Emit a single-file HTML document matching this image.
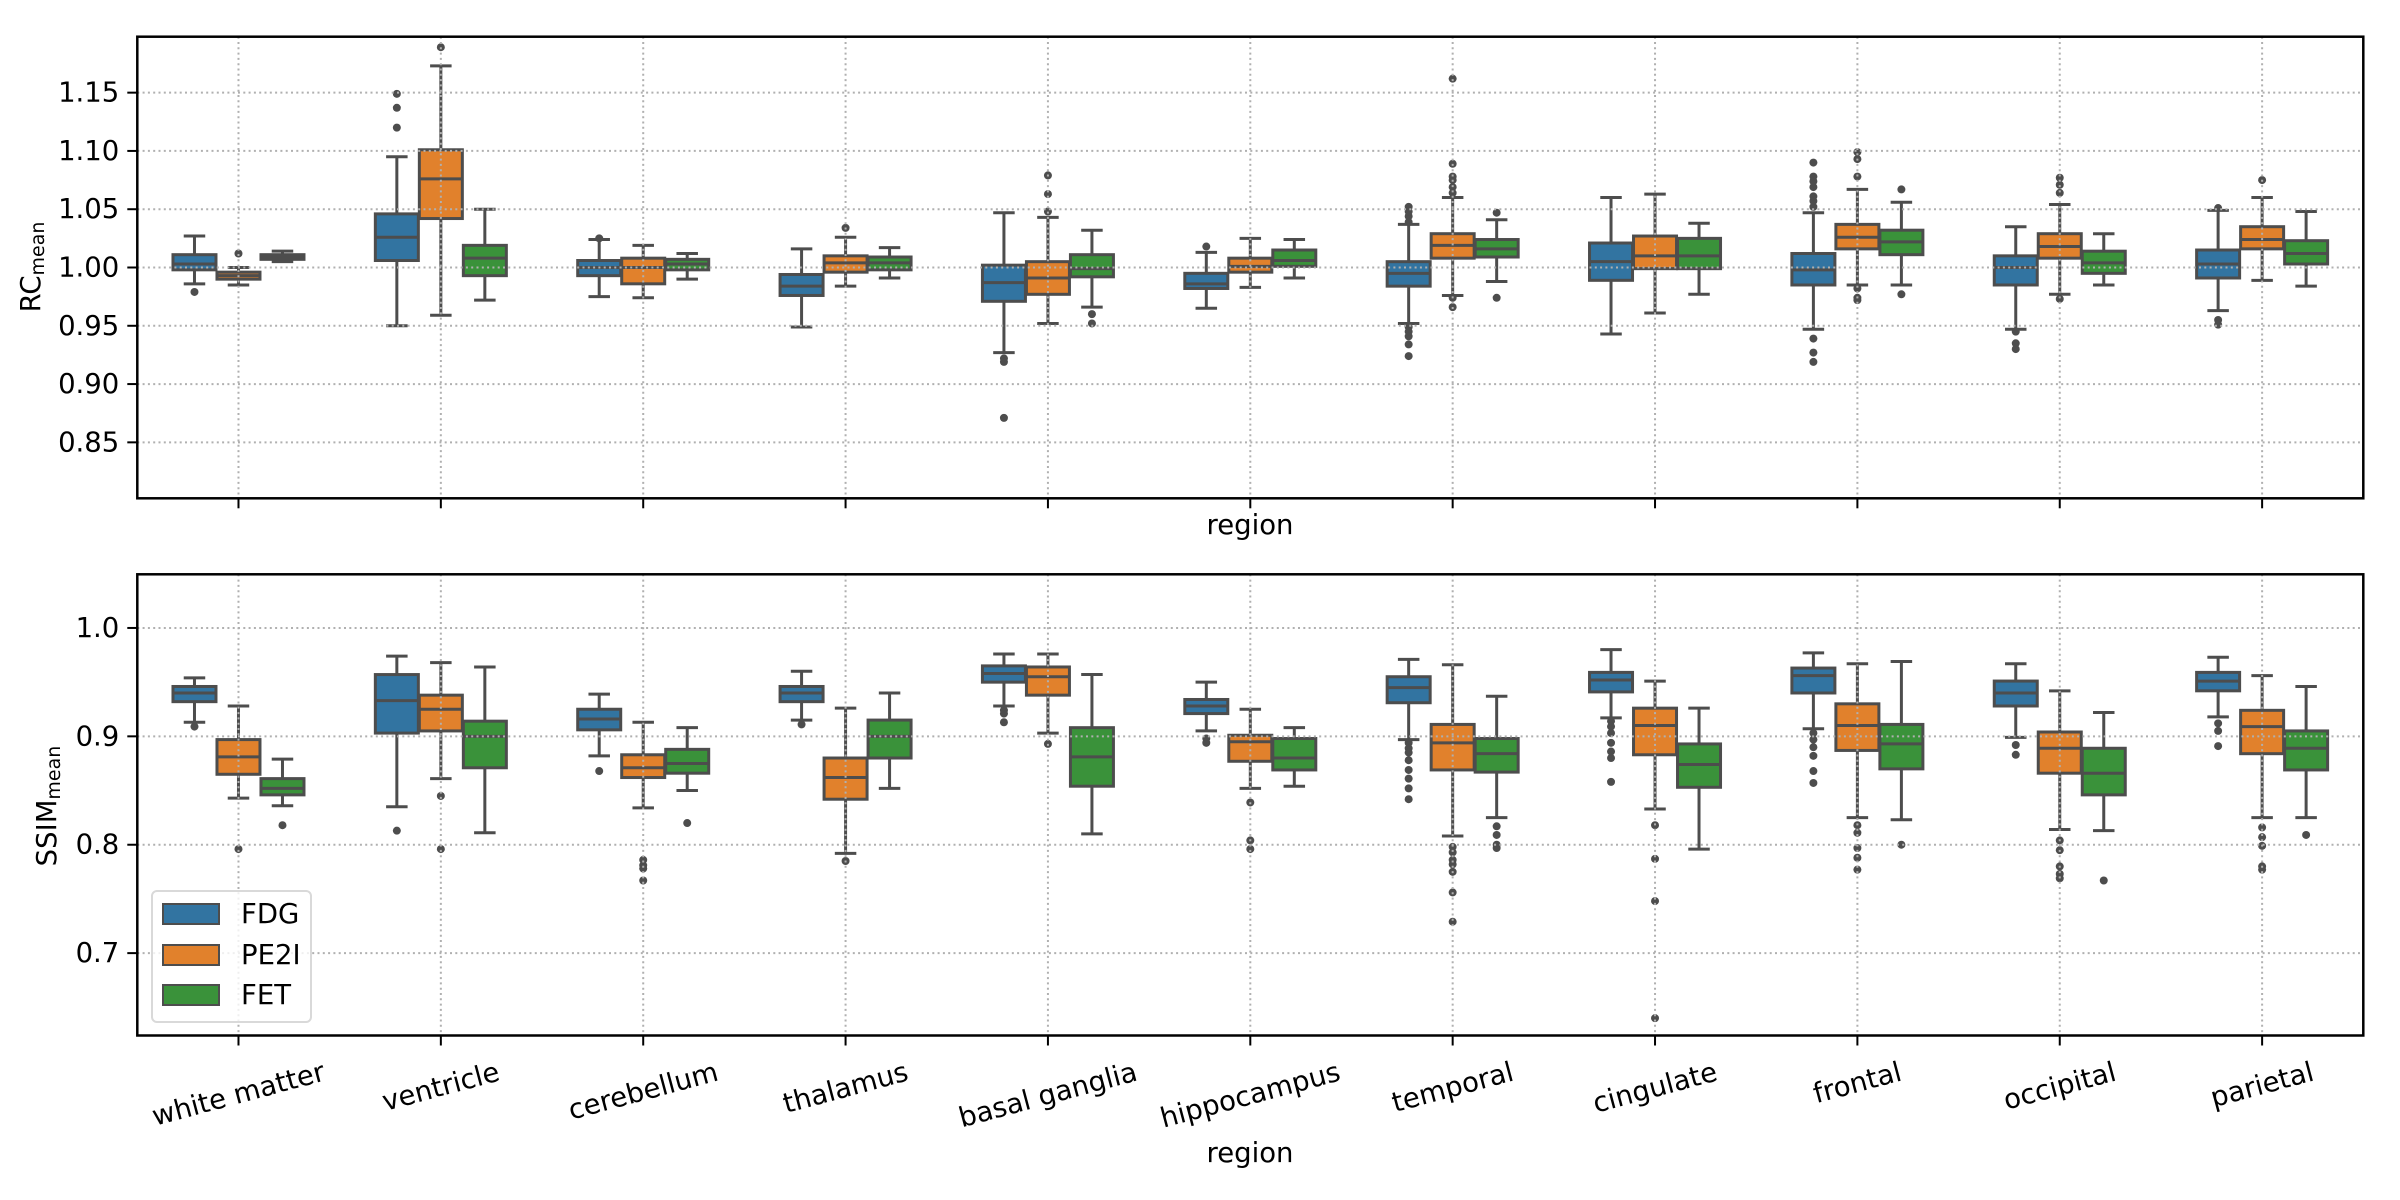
<!DOCTYPE html>
<html><head><meta charset="utf-8">
<style>
html,body{margin:0;padding:0;background:#fff;}
svg{display:block;font-family:"DejaVu Sans","Liberation Sans",sans-serif;}
</style></head>
<body>
<svg id="chart" width="2400" height="1200" viewBox="0 0 2400 1200" xmlns="http://www.w3.org/2000/svg"></svg>
<script>
const regions = ["white matter","ventricle","cerebellum","thalamus","basal ganglia","hippocampus","temporal","cingulate","frontal","occipital","parietal"];
const tracers = ["FDG","PE2I","FET"];
const tracerColors = ["#3274a1","#e1812c","#3a923a"];
const rcTicks = [0.85,0.90,0.95,1.00,1.05,1.10,1.15];
const rcTickLabels = ["0.85","0.90","0.95","1.00","1.05","1.10","1.15"];
const ssimTicks = [0.7,0.8,0.9,1.0];
const ssimTickLabels = ["0.7","0.8","0.9","1.0"];
// each entry: [whisker low, q1, median, q3, whisker high]
const rcFDG = [[0.986,0.998,1.003,1.011,1.027],[0.950,1.006,1.026,1.046,1.095],[0.975,0.993,1.000,1.006,1.024],[0.949,0.976,0.984,0.994,1.016],[0.927,0.971,0.987,1.002,1.047],[0.965,0.982,0.986,0.995,1.013],[0.952,0.984,0.995,1.005,1.037],[0.943,0.989,1.005,1.021,1.060],[0.947,0.985,0.998,1.012,1.047],[0.947,0.985,1.000,1.010,1.035],[0.963,0.991,1.003,1.015,1.049]];
const rcPE2I = [[0.985,0.990,0.993,0.996,1.000],[0.959,1.042,1.076,1.101,1.173],[0.974,0.986,1.000,1.008,1.019],[0.984,0.996,1.004,1.010,1.026],[0.952,0.977,0.991,1.005,1.043],[0.983,0.996,1.001,1.008,1.025],[0.976,1.008,1.019,1.029,1.060],[0.961,0.999,1.010,1.027,1.063],[0.985,1.016,1.026,1.037,1.067],[0.977,1.008,1.018,1.029,1.054],[0.989,1.016,1.024,1.035,1.060]];
const rcFET = [[1.005,1.007,1.009,1.011,1.014],[0.972,0.993,1.008,1.019,1.050],[0.990,0.998,1.003,1.007,1.012],[0.991,0.998,1.004,1.009,1.017],[0.966,0.992,0.999,1.011,1.032],[0.991,1.001,1.006,1.015,1.024],[0.988,1.009,1.016,1.024,1.041],[0.977,0.999,1.010,1.025,1.038],[0.985,1.011,1.022,1.032,1.056],[0.985,0.995,1.004,1.014,1.029],[0.984,1.003,1.012,1.023,1.048]];
const rcFDGFliers = [[0.979],[1.120,1.137,1.149],[1.025],[],[0.922,0.919,0.871],[1.018],[1.039,1.044,1.048,1.052,0.949,0.945,0.941,0.934,0.924],[],[1.052,1.057,1.061,1.069,1.074,1.078,1.090,0.939,0.927,0.919],[0.945,0.935,0.930],[1.051,0.955,0.951]];
const rcPE2IFliers = [[1.012],[1.189],[],[1.034],[1.048,1.063,1.079],[],[1.064,1.069,1.075,1.078,1.089,1.162,0.974,0.966],[],[1.078,1.093,1.099,0.982,0.974,0.972],[1.064,1.071,1.077,0.973],[1.075]];
const rcFETFliers = [[],[],[],[],[0.960,0.952],[],[1.047,0.974],[],[1.067,0.977],[],[]];
const ssimFDG = [[0.913,0.932,0.940,0.946,0.954],[0.835,0.903,0.933,0.957,0.974],[0.882,0.906,0.916,0.925,0.939],[0.915,0.932,0.940,0.946,0.960],[0.928,0.950,0.958,0.965,0.976],[0.905,0.921,0.928,0.934,0.950],[0.897,0.931,0.945,0.955,0.971],[0.917,0.941,0.952,0.959,0.980],[0.907,0.940,0.956,0.963,0.977],[0.899,0.928,0.940,0.951,0.967],[0.918,0.942,0.951,0.959,0.973]];
const ssimPE2I = [[0.843,0.865,0.881,0.897,0.928],[0.861,0.905,0.925,0.938,0.968],[0.834,0.862,0.871,0.883,0.913],[0.792,0.842,0.862,0.880,0.926],[0.903,0.938,0.955,0.964,0.976],[0.852,0.877,0.895,0.901,0.925],[0.808,0.869,0.894,0.911,0.966],[0.833,0.883,0.910,0.926,0.951],[0.825,0.887,0.910,0.930,0.967],[0.814,0.866,0.889,0.904,0.942],[0.825,0.884,0.909,0.924,0.956]];
const ssimFET = [[0.836,0.846,0.852,0.861,0.879],[0.811,0.871,0.900,0.914,0.964],[0.850,0.866,0.875,0.888,0.908],[0.852,0.880,0.900,0.915,0.940],[0.810,0.854,0.881,0.908,0.957],[0.854,0.869,0.880,0.898,0.908],[0.825,0.867,0.884,0.898,0.937],[0.796,0.853,0.874,0.893,0.926],[0.823,0.870,0.893,0.911,0.969],[0.813,0.846,0.866,0.889,0.922],[0.825,0.869,0.889,0.905,0.946]];
const ssimFDGFliers = [[0.909],[0.813],[0.868],[0.911],[0.924,0.921,0.913],[0.898,0.894],[0.894,0.889,0.885,0.878,0.869,0.861,0.852,0.842],[0.914,0.909,0.903,0.894,0.886,0.880,0.858],[0.903,0.897,0.890,0.882,0.868,0.857],[0.892,0.883],[0.912,0.905,0.891]];
const ssimPE2IFliers = [[0.796],[0.845,0.796],[0.786,0.781,0.778,0.767],[0.785],[0.893],[0.839,0.804,0.796],[0.798,0.793,0.786,0.782,0.775,0.756,0.729],[0.818,0.787,0.748,0.640],[0.818,0.811,0.797,0.788,0.777],[0.804,0.795,0.780,0.773,0.769],[0.816,0.807,0.799,0.780,0.777]];
const ssimFETFliers = [[0.818],[],[0.820],[],[],[],[0.817,0.809,0.800,0.797],[],[0.800],[0.767],[0.809]];

const NS = "http://www.w3.org/2000/svg";
const svg = document.getElementById("chart");
const FS = 27.5, EDGE = "#4d4d4d", GRID = "#b0b0b0";
const X0 = 137.3, X1 = 2363.3;
const groupW = (X1 - X0) / regions.length;
const hueOff = 44, boxW = 43;
function xC(i){ return X0 + groupW*(i+0.5); }
function mk(tag, attrs, parent){ const e=document.createElementNS(NS,tag); for(const k in attrs) e.setAttribute(k,attrs[k]); (parent||svg).appendChild(e); return e; }

function panel(cfg){
  const g = mk("g",{});
  
  
  const y = v => cfg.top + (cfg.vmax - v)/(cfg.vmax - cfg.vmin)*(cfg.bottom - cfg.top);
  // boxes
  cfg.series.forEach((ser, h) => {
    ser.forEach((s, i) => {
      const cx = xC(i) + (h-1)*hueOff;
      const bg = mk("g",{}, g);
      
      
      const [lo,q1,md,q3,hi] = s;
      mk("line",{x1:cx,x2:cx,y1:y(hi),y2:y(q3),stroke:EDGE,"stroke-width":3},bg);
      mk("line",{x1:cx,x2:cx,y1:y(q1),y2:y(lo),stroke:EDGE,"stroke-width":3},bg);
      mk("line",{x1:cx-boxW/4,x2:cx+boxW/4,y1:y(hi),y2:y(hi),stroke:EDGE,"stroke-width":3},bg);
      mk("line",{x1:cx-boxW/4,x2:cx+boxW/4,y1:y(lo),y2:y(lo),stroke:EDGE,"stroke-width":3},bg);
      mk("rect",{x:cx-boxW/2,y:y(q3),width:boxW,height:Math.max(1,y(q1)-y(q3)),fill:tracerColors[h],stroke:EDGE,"stroke-width":3},bg);
      mk("line",{x1:cx-boxW/2,x2:cx+boxW/2,y1:y(md),y2:y(md),stroke:EDGE,"stroke-width":3},bg);
      cfg.fliers[h][i].forEach(f => {
        const c = mk("circle",{cx:cx,cy:y(f),r:4,fill:EDGE},bg);
        
        
      });
    });
  });
  // grid (drawn above boxes as in reference)
  const gg = mk("g",{}, g);
  
  
  cfg.ticks.forEach(t => mk("line",{x1:X0,x2:X1,y1:y(t),y2:y(t),stroke:GRID,"stroke-width":2,"stroke-dasharray":"2,3.3"},gg));
  regions.forEach((r,i) => mk("line",{x1:xC(i),x2:xC(i),y1:cfg.top,y2:cfg.bottom,stroke:GRID,"stroke-width":2,"stroke-dasharray":"2,3.3"},gg));
  // frame
  const fr = mk("rect",{x:X0,y:cfg.top,width:X1-X0,height:cfg.bottom-cfg.top,fill:"none",stroke:"#000","stroke-width":2.5},g);
  
  
  // y ticks
  cfg.ticks.forEach((t,k) => {
    mk("line",{x1:X0-10,x2:X0,y1:y(t),y2:y(t),stroke:"#000","stroke-width":2},g);
    const tx = mk("text",{x:X0-18,y:y(t),"font-size":FS,"text-anchor":"end","dominant-baseline":"central",fill:"#000"},g);
    tx.textContent = cfg.tickLabels[k];
    
    
  });
  // x ticks
  regions.forEach((r,i) => mk("line",{x1:xC(i),x2:xC(i),y1:cfg.bottom,y2:cfg.bottom+10,stroke:"#000","stroke-width":2},g));
  // y label
  const yl = mk("text",{transform:`translate(${cfg.ylx},${cfg.yly}) rotate(-90)`,"font-size":FS,"text-anchor":"middle","dominant-baseline":"central",fill:"#000"},g);
  
  
  const t1 = mk("tspan",{},yl); t1.textContent = cfg.ylMain;
  const t2 = mk("tspan",{"font-size":19,dy:7},yl); t2.textContent = "mean";
  return y;
}

panel({name:"rc-panel",top:36.7,bottom:498.3,vmin:0.802,vmax:1.198,ticks:rcTicks,tickLabels:rcTickLabels,
  series:[rcFDG,rcPE2I,rcFET],fliers:[rcFDGFliers,rcPE2IFliers,rcFETFliers],ylx:31,yly:267,ylMain:"RC",ylName:"y-axis-title-rc"});
panel({name:"ssim-panel",top:574.3,bottom:1035.5,vmin:0.624,vmax:1.0495,ticks:ssimTicks,tickLabels:ssimTickLabels,
  series:[ssimFDG,ssimPE2I,ssimFET],fliers:[ssimFDGFliers,ssimPE2IFliers,ssimFETFliers],ylx:47,yly:806,ylMain:"SSIM",ylName:"y-axis-title-ssim"});

// x labels
const xl1 = mk("text",{x:1250,y:534,"font-size":FS,"text-anchor":"middle",fill:"#000"});
xl1.textContent = "region";


const xl2 = mk("text",{x:1250,y:1162,"font-size":FS,"text-anchor":"middle",fill:"#000"});
xl2.textContent = "region";



// rotated category labels
const ang = 15*Math.PI/180;
regions.forEach((r,i) => {
  const t = mk("text",{"font-size":FS,"text-anchor":"middle","dominant-baseline":"central",fill:"#000"});
  t.textContent = r;
  
  
  const L = t.getComputedTextLength();
  const h = L*Math.sin(ang) + FS*1.15*Math.cos(ang);
  const cy = 1056 + h/2;
  t.setAttribute("transform", `translate(${xC(i)},${cy}) rotate(-15)`);
});

// legend
const lg = mk("g",{});


mk("rect",{x:152,y:891,width:159,height:131,rx:5,fill:"#fff","fill-opacity":0.8,stroke:"#d9d9d9","stroke-width":2},lg);
const legY = [914,955,995];
tracers.forEach((tr,h) => {
  const e = mk("g",{},lg);
  
  
  mk("rect",{x:163,y:legY[h]-10,width:56,height:20,fill:tracerColors[h],stroke:EDGE,"stroke-width":2},e);
  const t = mk("text",{x:241,y:legY[h],"font-size":FS,"dominant-baseline":"central",fill:"#000"},e);
  t.textContent = tr;
});
</script>
</body></html>
